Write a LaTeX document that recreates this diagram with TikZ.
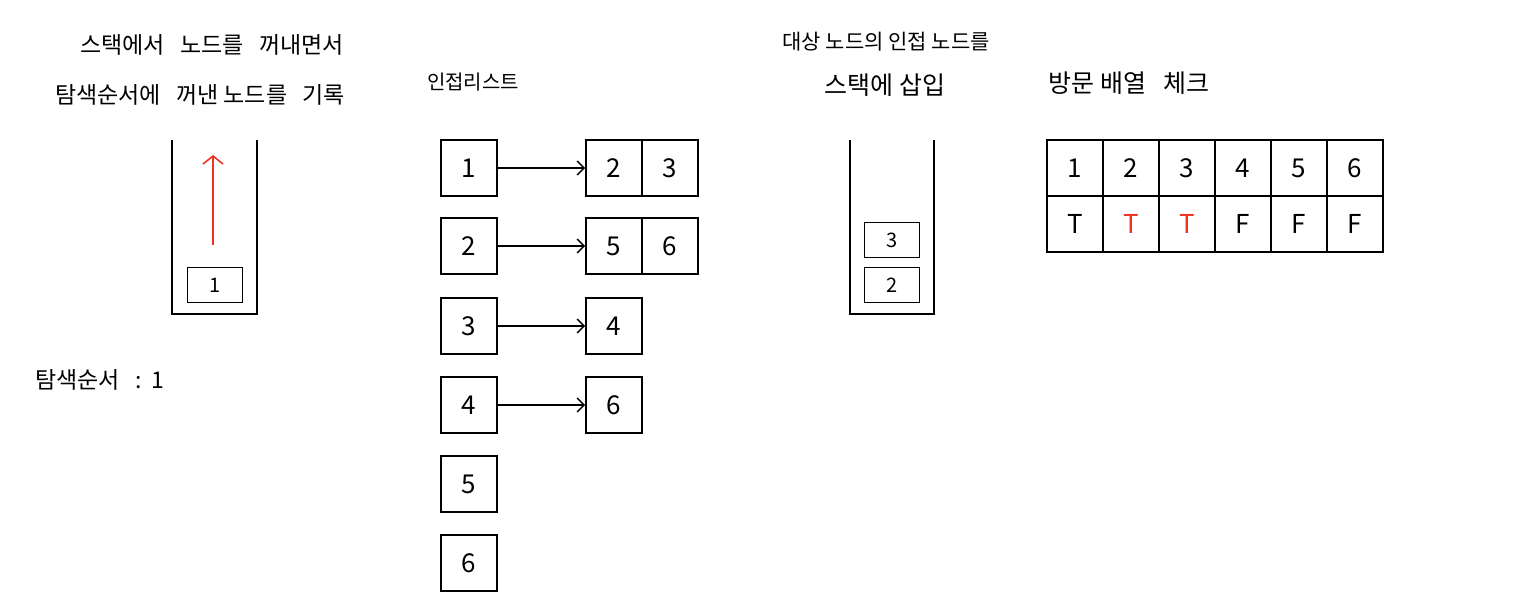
\documentclass[tikz,border=0pt]{standalone}
\usepackage{fontspec}
\setmainfont{Noto Sans CJK KR}
\usetikzlibrary{arrows.meta}
\definecolor{hred}{HTML}{EE3322}
\tikzset{
  cell/.style={draw, line width=1.6pt, minimum width=56pt, minimum height=56pt, inner sep=0pt, font=\fontsize{26}{26}\selectfont},
  sbox/.style={draw, line width=1.6pt, minimum width=55pt, minimum height=35pt, inner sep=0pt, font=\fontsize{20}{20}\selectfont},
  lbl/.style={inner sep=0pt, font=\fontsize{23}{23}\selectfont},
  wall/.style={line width=1.6pt},
  arr/.style={line width=1.4pt, -{Straight Barb[length=7pt,width=14pt,line width=1.4pt]}},
}
\begin{document}
\begin{tikzpicture}[x=1pt,y=-1pt]
\useasboundingbox (0,0) rectangle (1525,612);
% titles
\node[lbl] (t1a) at (212,45) {스택에서\ \ \ 노드를\ \ \ 꺼내면서};
\node[lbl] (t1b) at (200,95) {탐색순서에\ \ \ 꺼낸 노드를\ \ \ 기록};
\node[lbl, anchor=west] (order) at (35,380) {탐색순서\ \ \ :\ \ 1};
\node[lbl, font=\fontsize{20}{20}\selectfont] (t2) at (473,82) {인접리스트};
\node[lbl, font=\fontsize{21}{21}\selectfont] (t3a) at (886,42) {대상 노드의 인접 노드를};
\node[lbl, font=\fontsize{25}{25}\selectfont] (t3b) at (885,85) {스택에 삽입};
\node[lbl, font=\fontsize{25}{25}\selectfont] (t4) at (1129,83) {방문 배열\ \ \ 체크};
% left stack
\draw[wall] (172,140) -- (172,314) -- (257,314) -- (257,140);
\node[sbox] (s1) at (215,285) {1};
\coordinate (ra) at (213,245);
\coordinate (rb) at (213,155);
\draw[line width=1.6pt, hred, -{Straight Barb[length=8pt,width=20pt,line width=1.6pt]}] (ra) -- (rb);
% adjacency list
\node[cell] (a1) at (469,168) {1};
\node[cell] (a2) at (469,246) {2};
\node[cell] (a3) at (469,326) {3};
\node[cell] (a4) at (469,405) {4};
\node[cell] (a5) at (469,484) {5};
\node[cell] (a6) at (469,563) {6};
\node[cell] (b12) at (614,168) {2};
\node[cell] (b13) at (670,168) {3};
\node[cell] (b25) at (614,246) {5};
\node[cell] (b26) at (670,246) {6};
\node[cell] (b34) at (614,326) {4};
\node[cell] (b46) at (614,405) {6};
\draw[arr] (a1) -- (b12);
\draw[arr] (a2) -- (b25);
\draw[arr] (a3) -- (b34);
\draw[arr] (a4) -- (b46);
% middle stack
\draw[wall] (850,140) -- (850,314) -- (934,314) -- (934,140);
\node[sbox] (m3) at (892,240) {3};
\node[sbox] (m2) at (892,285) {2};
% visit table
\foreach \i in {1,...,6} {
  \node[cell] (h\i) at (1075+56*\i-56,168) {\i};
}
\node[cell] (v1) at (1075,224) {T};
\node[cell, text=hred] (v2) at (1131,224) {T};
\node[cell, text=hred] (v3) at (1187,224) {T};
\node[cell] (v4) at (1243,224) {F};
\node[cell] (v5) at (1299,224) {F};
\node[cell] (v6) at (1355,224) {F};
\end{tikzpicture}
\end{document}
